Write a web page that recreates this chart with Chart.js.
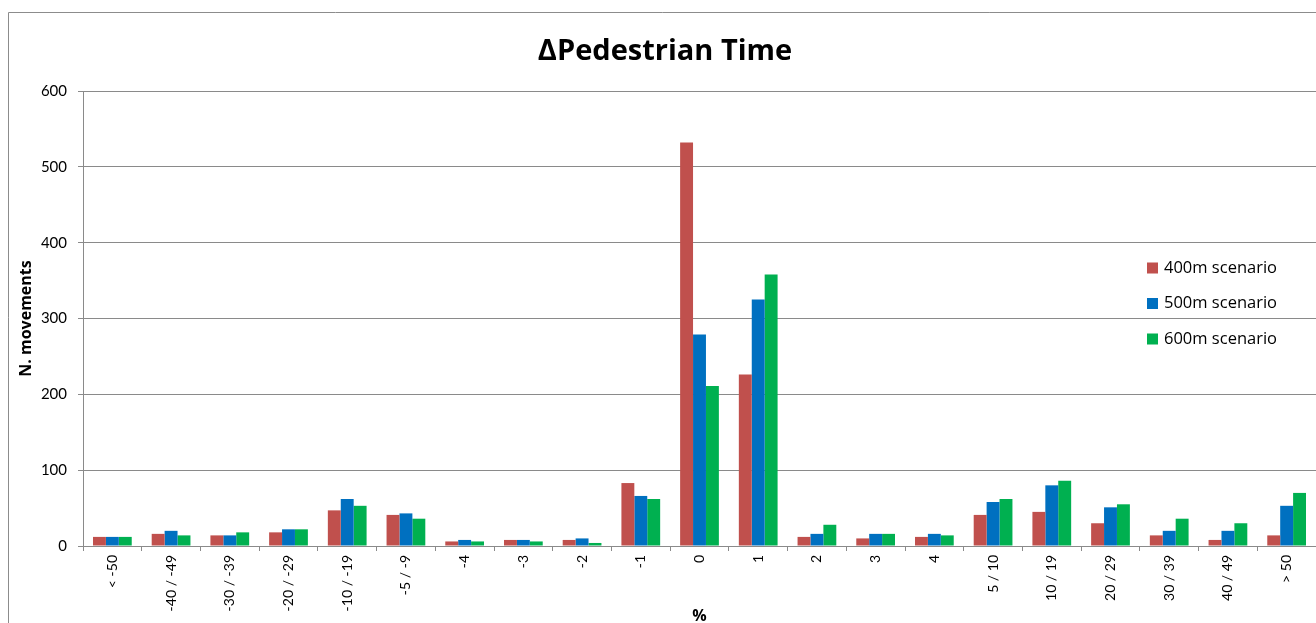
<!DOCTYPE html>
<html>
<head>
<meta charset="utf-8">
<script src="https://cdn.jsdelivr.net/npm/chart.js@4/dist/chart.umd.min.js"></script>
<style>
  html, body { margin: 0; padding: 0; background: #ffffff; }
  #wrap { width: 1316px; height: 623px; position: relative; }
</style>
</head>
<body>
<div id="wrap"><canvas id="c" width="1316" height="623"></canvas></div>
<script>
// Change in pedestrian time (%) — number of movements per class
const categories = ['< -50', '-40 / -49', '-30 / -39', '-20 / -29', '-10 / -19', '-5 / -9',
  '-4', '-3', '-2', '-1', '0', '1', '2', '3', '4',
  '5 / 10', '10 / 19', '20 / 29', '30 / 39', '40 / 49', '> 50'];

const scenario400 = [12, 16, 14, 18, 47, 41, 6, 8, 8, 83, 532, 226, 12, 10, 12, 41, 45, 30, 14, 8, 14];
const scenario500 = [12, 20, 14, 22, 62, 43, 8, 8, 10, 66, 279, 325, 16, 16, 16, 58, 80, 51, 20, 20, 53];
const scenario600 = [12, 14, 18, 22, 53, 36, 6, 6, 4, 62, 211, 358, 28, 16, 14, 62, 86, 55, 36, 30, 70];

const seriesNames = ['400m scenario', '500m scenario', '600m scenario'];
const seriesColors = ['#C0504D', '#0070C0', '#00B050'];

const yTicks = [0, 100, 200, 300, 400, 500, 600];

const FONT = 'Lato, "Open Sans", sans-serif';
const WIDE = '"Open Sans", Lato, sans-serif';
const GRID = '#8a8a8a';

// Title, legend, axis titles and outer frame
const decorations = {
  id: 'decorations',
  afterDraw(chart) {
    const ctx = chart.ctx;
    const area = chart.chartArea;
    ctx.save();

    // outer frame
    ctx.strokeStyle = '#8c8c8c';
    ctx.lineWidth = 1;
    ctx.beginPath();
    ctx.moveTo(8.5, 623);
    ctx.lineTo(8.5, 12.5);
    ctx.lineTo(1316, 12.5);
    ctx.stroke();

    // title
    ctx.fillStyle = '#000';
    ctx.font = 'bold 29px ' + WIDE;
    ctx.textAlign = 'center';
    ctx.textBaseline = 'alphabetic';
    ctx.fillText('\u0394Pedestrian Time', 665, 60);

    // axis titles
    ctx.font = 'bold 16px ' + WIDE;
    ctx.fillText('%', (area.left + area.right) / 2, 621);
    ctx.save();
    ctx.translate(31, (area.top + area.bottom) / 2);
    ctx.rotate(-Math.PI / 2);
    ctx.fillText('N. movements', 0, 0);
    ctx.restore();

    // legend
    ctx.font = '16.5px ' + WIDE;
    ctx.textAlign = 'left';
    ctx.textBaseline = 'middle';
    chart.data.datasets.forEach((ds, i) => {
      const y = 268 + i * 35.5;
      ctx.fillStyle = ds.backgroundColor;
      ctx.fillRect(1147, y - 5.5, 11, 11);
      ctx.fillStyle = '#000';
      ctx.fillText(ds.label, 1164, y);
    });

    ctx.restore();
  }
};

new Chart(document.getElementById('c'), {
  type: 'bar',
  data: {
    labels: categories,
    datasets: [
      { label: seriesNames[0], data: scenario400, backgroundColor: seriesColors[0] },
      { label: seriesNames[1], data: scenario500, backgroundColor: seriesColors[1] },
      { label: seriesNames[2], data: scenario600, backgroundColor: seriesColors[2] }
    ]
  },
  options: {
    responsive: false,
    animation: false,
    devicePixelRatio: 1,
    layout: { padding: { top: 91, right: 0, left: 0, bottom: 0 } },
    datasets: { bar: { categoryPercentage: 0.66, barPercentage: 1.0, borderWidth: 0 } },
    plugins: {
      legend: { display: false },
      title: { display: false },
      tooltip: { enabled: false }
    },
    scales: {
      x: {
        afterFit(scale) { scale.height = 77; },
        grid: { display: true, drawOnChartArea: false, drawTicks: true, tickLength: 5, color: GRID, offset: true },
        border: { display: true, color: GRID, width: 1 },
        ticks: {
          autoSkip: false, minRotation: 90, maxRotation: 90, padding: 4,
          color: '#000', font: { family: FONT, size: 14 }
        }
      },
      y: {
        min: 0, max: 600,
        afterFit(scale) { scale.width = 83; },
        afterBuildTicks(scale) { scale.ticks = yTicks.map(v => ({ value: v })); },
        grid: { color: GRID, lineWidth: 1, drawTicks: true, tickLength: 5 },
        border: { display: true, color: GRID, width: 1 },
        ticks: { padding: 11, color: '#000', font: { family: FONT, size: 15 } }
      }
    }
  },
  plugins: [decorations]
});
</script>
</body>
</html>
